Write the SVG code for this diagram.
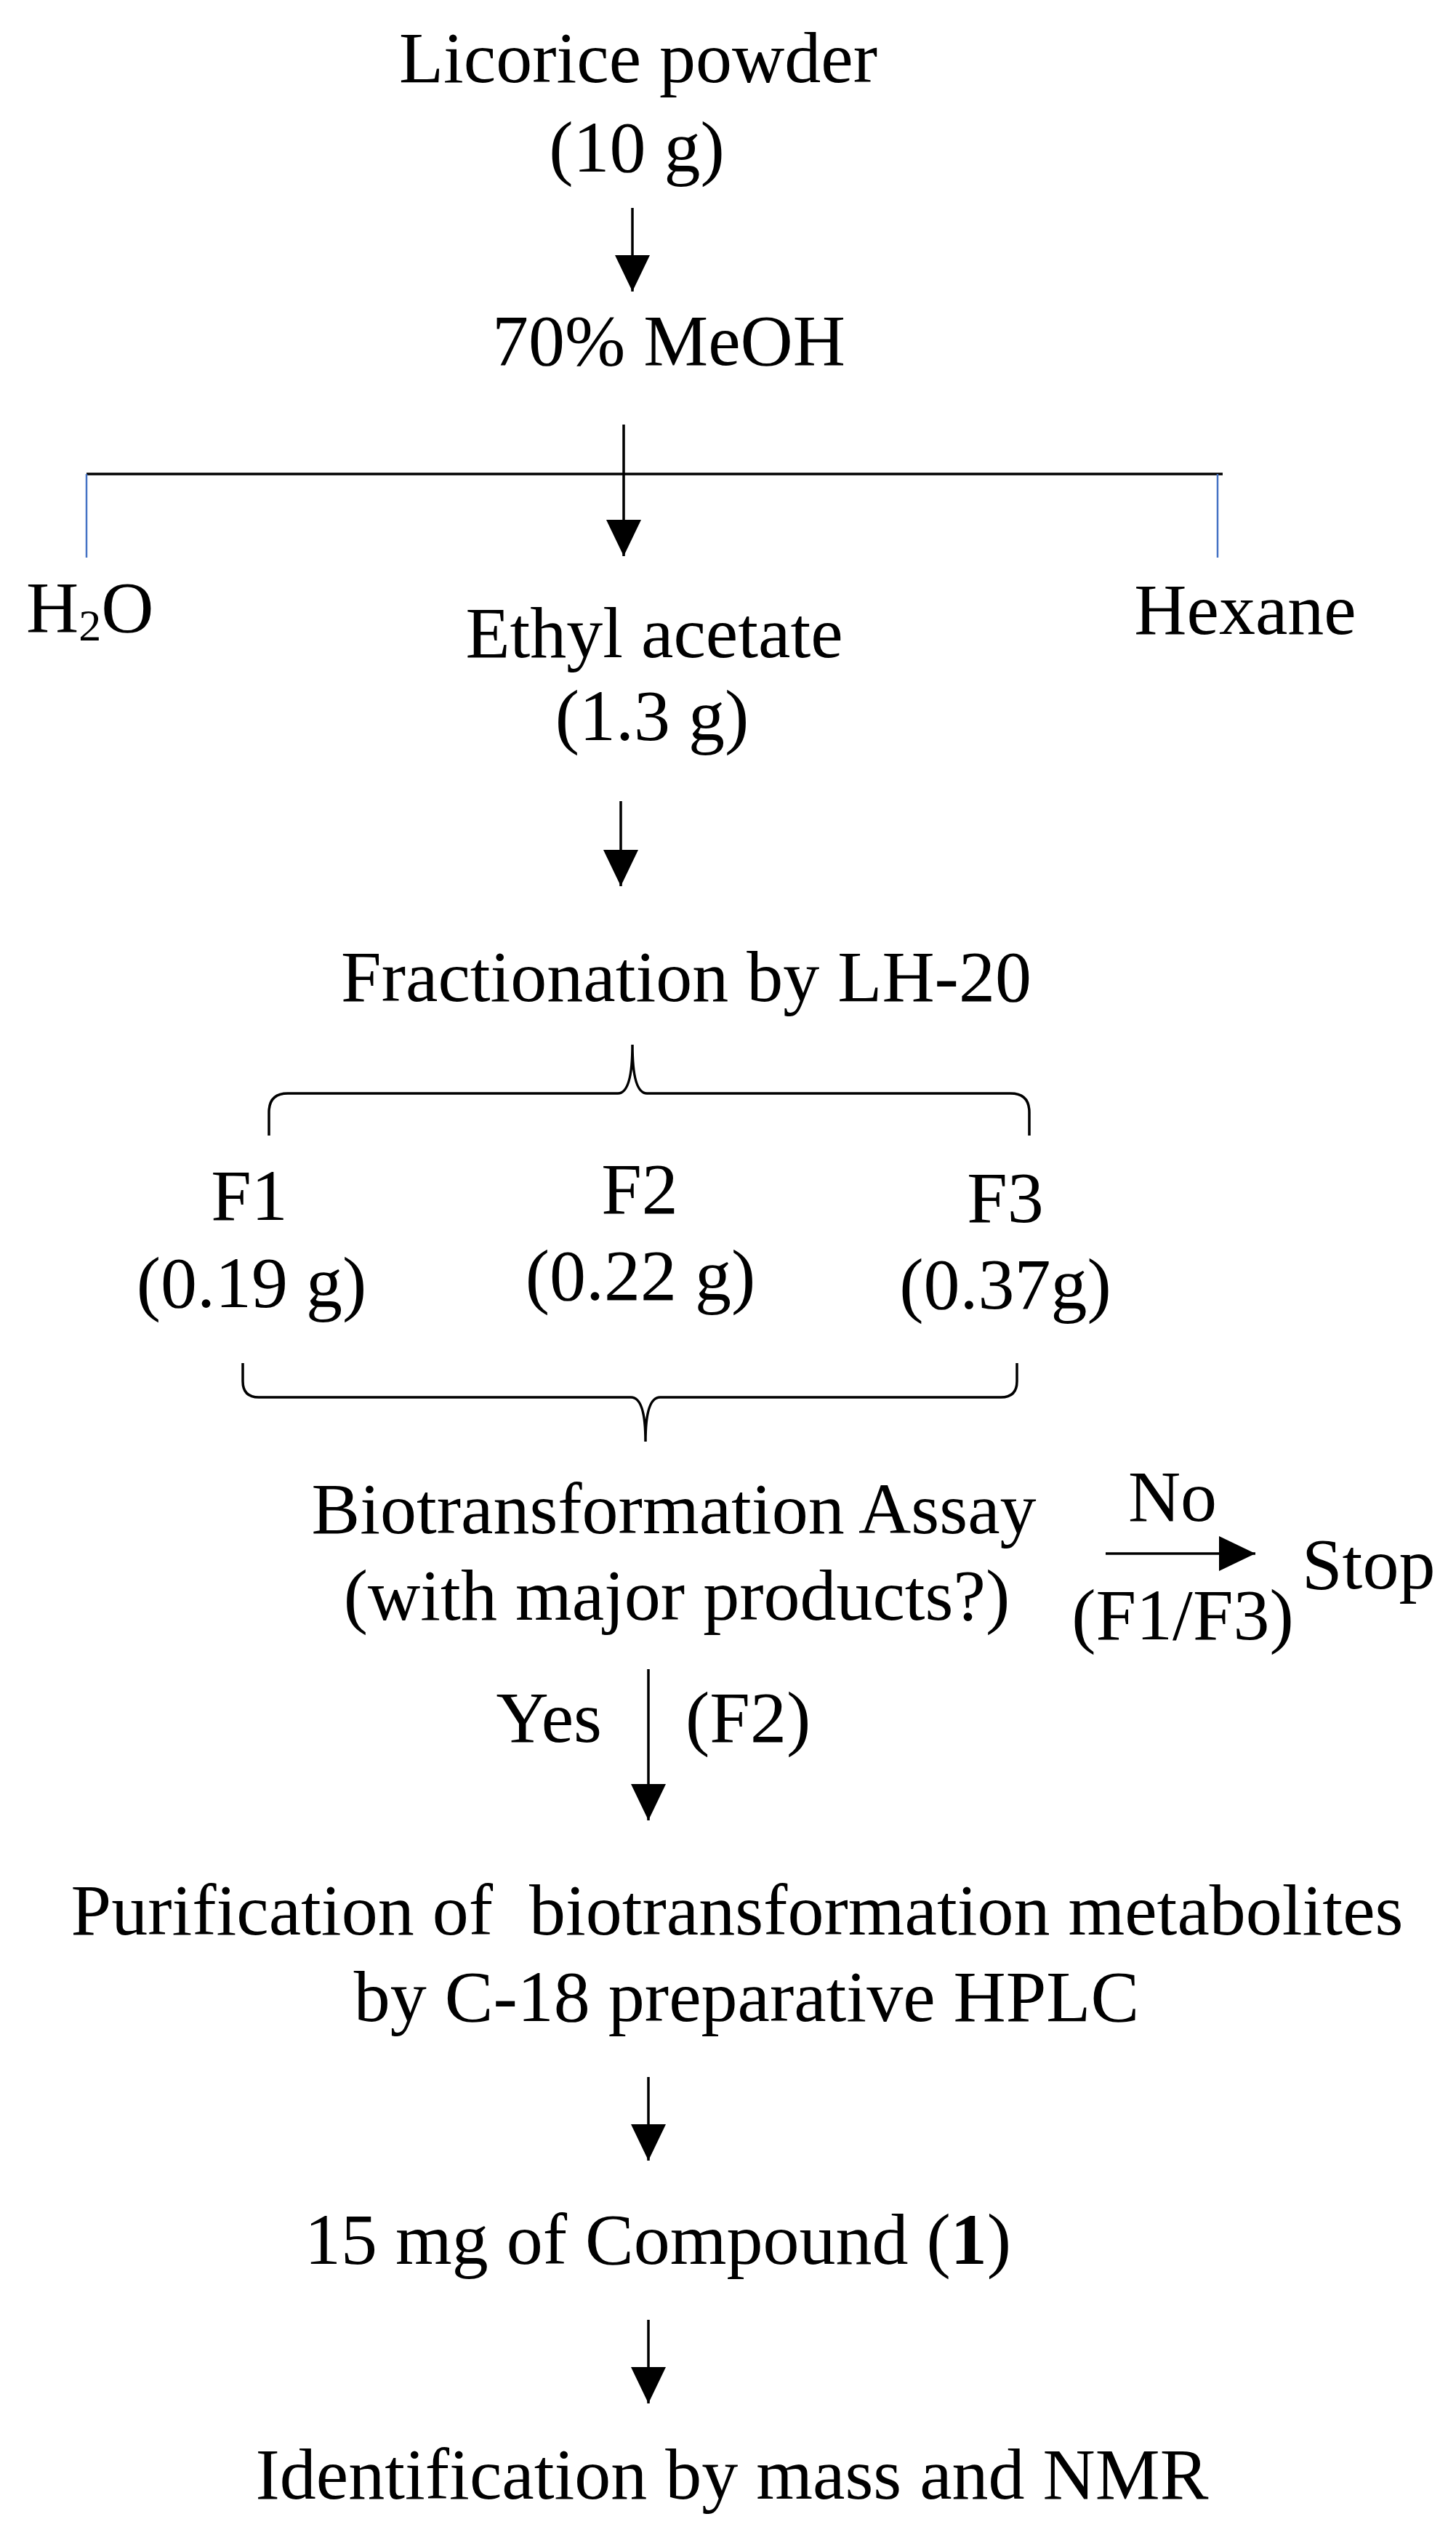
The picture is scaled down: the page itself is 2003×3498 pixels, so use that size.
<svg xmlns="http://www.w3.org/2000/svg" width="2003" height="3498" viewBox="0 0 2003 3498">
<style>
text{font-family:"Liberation Serif","Times New Roman",serif;font-size:100px;fill:#000}
.m{text-anchor:middle}
.ln{stroke:#000;stroke-width:3.5;fill:none}
.bl{stroke:#4472C4;stroke-width:2.5;fill:none}
</style>
<defs>
<marker id="ah" markerUnits="userSpaceOnUse" markerWidth="50" markerHeight="52" refX="50" refY="24" orient="auto" viewBox="0 0 50 48">
<path d="M0,0 L50,24 L0,48 Z" fill="#000"/>
</marker>
</defs>
<rect width="2003" height="3498" fill="#fff"/>
<g id="connectors">
<line class="ln" x1="870" y1="286" x2="870" y2="401" marker-end="url(#ah)"/>
<line class="ln" x1="858" y1="584" x2="858" y2="765" marker-end="url(#ah)"/>
<line class="ln" x1="119" y1="652" x2="1682" y2="652"/>
<line class="bl" x1="119" y1="652" x2="119" y2="767"/>
<line class="bl" x1="1675" y1="652" x2="1675" y2="767"/>
<line class="ln" x1="854" y1="1102" x2="854" y2="1219" marker-end="url(#ah)"/>
<path class="ln" stroke-width="3" d="M370,1562 L370,1530 Q370,1504 396,1504 L850,1504 Q870,1504 870,1437 Q870,1504 890,1504 L1390,1504 Q1416,1504 1416,1530 L1416,1562"/>
<path class="ln" stroke-width="3" d="M334,1875 L334,1900 Q334,1922 356,1922 L868,1922 Q888,1922 888,1983 Q888,1922 908,1922 L1377,1922 Q1399,1922 1399,1900 L1399,1875"/>
<line class="ln" x1="1521" y1="2137" x2="1727" y2="2137" marker-end="url(#ah)"/>
<line class="ln" x1="892" y1="2296" x2="892" y2="2504" marker-end="url(#ah)"/>
<line class="ln" x1="892" y1="2857" x2="892" y2="2972" marker-end="url(#ah)"/>
<line class="ln" x1="892" y1="3191" x2="892" y2="3306" marker-end="url(#ah)"/>
</g>
<g id="licorice"><text class="m" x="878" y="113">Licorice powder</text><text class="m" x="876" y="236">(10 g)</text></g>
<g id="meoh"><text class="m" x="920" y="502">70% MeOH</text></g>
<g id="water"><text x="36" y="869">H<tspan font-size="62" dy="12">2</tspan><tspan dy="-12">O</tspan></text></g>
<g id="ethyl"><text class="m" x="900" y="904">Ethyl acetate</text><text class="m" x="897" y="1018">(1.3 g)</text></g>
<g id="hexane"><text class="m" x="1713" y="872">Hexane</text></g>
<g id="fractionation"><text class="m" x="944" y="1377">Fractionation by LH-20</text></g>
<g id="f1"><text class="m" x="343" y="1678">F1</text><text class="m" x="346" y="1798">(0.19 g)</text></g>
<g id="f2"><text class="m" x="880" y="1669">F2</text><text class="m" x="881" y="1788">(0.22 g)</text></g>
<g id="f3"><text class="m" x="1383" y="1681">F3</text><text class="m" x="1383" y="1800">(0.37g)</text></g>
<g id="assay"><text class="m" x="927" y="2109">Biotransformation Assay</text><text class="m" x="931" y="2228">(with major products?)</text></g>
<g id="no-label"><text class="m" x="1613" y="2092">No</text><text class="m" x="1627" y="2255">(F1/F3)</text></g>
<g id="stop"><text x="1791" y="2185">Stop</text></g>
<g id="yes-label"><text x="828" y="2396" text-anchor="end">Yes</text><text x="943" y="2396">(F2)</text></g>
<g id="purification"><text class="m" x="1014" y="2661" xml:space="preserve">Purification of  biotransformation metabolites</text><text class="m" x="1027" y="2780">by C-18 preparative HPLC</text></g>
<g id="compound"><text class="m" x="905" y="3114">15 mg of Compound (<tspan font-weight="bold">1</tspan>)</text></g>
<g id="identification"><text class="m" x="1007" y="3437">Identification by mass and NMR</text></g>
</svg>
